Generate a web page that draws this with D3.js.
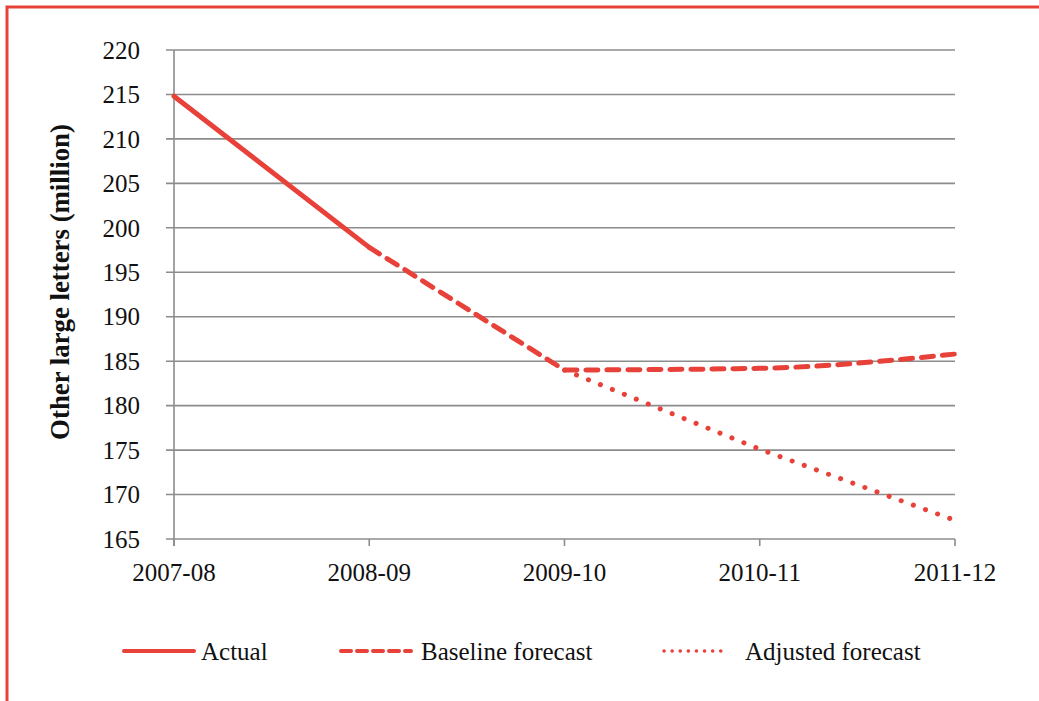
<!DOCTYPE html>
<html><head><meta charset="utf-8">
<script src="https://cdn.jsdelivr.net/npm/d3@7"></script>
<style>body{margin:0;background:#fff}svg{display:block}</style>
</head><body><svg id="c" width="1039" height="701"></svg>
<script>
const categories = ["2007-08","2008-09","2009-10","2010-11","2011-12"];
const actual = [214.8, 197.8, null, null, null];
const baseline = [null, 197.8, 184.0, 184.2, 185.8];
const adjusted = [null, null, 184.0, 175.1, 167.1];
const yTicks = [165,170,175,180,185,190,195,200,205,210,215,220];
const seriesNames = ["Actual","Baseline forecast","Adjusted forecast"];

const FONT = "Liberation Serif";
const red = "#e8413a", grid = "#8c8c8c", ink = "#111";
const svg = d3.select("#c");
svg.append("rect").attr("x",7).attr("y",7).attr("width",1100).attr("height",800)
  .attr("fill","none").attr("stroke",red).attr("stroke-width",3);

const x = d3.scalePoint().domain(categories).range([174,955]);
const y = d3.scaleLinear().domain([165,220]).range([539,50]);

svg.append("g").selectAll("line").data(yTicks).join("line")
  .attr("x1",166).attr("x2",955).attr("y1",d=>y(d)).attr("y2",d=>y(d))
  .attr("stroke",grid).attr("stroke-width",1.6);
svg.append("line").attr("x1",174).attr("x2",174).attr("y1",50).attr("y2",546)
  .attr("stroke",grid).attr("stroke-width",1.6);
svg.append("g").selectAll("line").data(categories).join("line")
  .attr("x1",d=>x(d)).attr("x2",d=>x(d)).attr("y1",539).attr("y2",546)
  .attr("stroke",grid).attr("stroke-width",1.6);

svg.append("g").selectAll("text").data(yTicks).join("text")
  .attr("font-family",FONT).attr("fill",ink)
  .attr("x",140).attr("y",d=>y(d)).attr("dy","0.35em").attr("text-anchor","end")
  .attr("font-size",25).text(d=>d);
svg.append("g").selectAll("text").data(categories).join("text")
  .attr("font-family",FONT).attr("fill",ink)
  .attr("x",d=>x(d)).attr("y",581).attr("text-anchor","middle")
  .attr("font-size",25).text(d=>d);

svg.append("text").attr("transform","translate(69,282) rotate(-90)")
  .attr("font-family",FONT).attr("fill",ink)
  .attr("text-anchor","middle").attr("font-size",26.8).attr("font-weight","bold")
  .text("Other large letters (million)");

const lineLin = d3.line().defined(d=>d.v!=null).x(d=>x(d.c)).y(d=>y(d.v));
const lineSm = d3.line().x(d=>x(d.c)).y(d=>y(d.v)).curve(d3.curveMonotoneX);
const pts = arr => arr.map((v,i)=>({c:categories[i],v}));

const bp = pts(baseline).filter(d=>d.v!=null);
const baseD = lineLin(bp.slice(0,2)) + lineSm(bp.slice(1)).replace(/^M/,"L");

svg.append("path").attr("d",lineLin(pts(adjusted))).attr("fill","none").attr("stroke",red)
  .attr("stroke-width",5).attr("stroke-linecap","round").attr("stroke-dasharray","0.1,12.8");
svg.append("path").attr("d",baseD).attr("fill","none").attr("stroke",red)
  .attr("stroke-width",5).attr("stroke-linecap","round").attr("stroke-linejoin","round").attr("stroke-dasharray","12,9");
svg.append("path").attr("d",lineLin(pts(actual))).attr("fill","none").attr("stroke",red)
  .attr("stroke-width",5).attr("stroke-linecap","round");

const leg = [
  {name:seriesNames[0], x1:124, x2:194, tx:201, dash:null, w:4},
  {name:seriesNames[1], x1:341, x2:411, tx:421, dash:"10,6", w:4},
  {name:seriesNames[2], x1:664, x2:727, tx:745, dash:"0.1,8", w:3.5}
];
const lg = svg.append("g").selectAll("g").data(leg).join("g");
lg.append("line").attr("x1",d=>d.x1).attr("x2",d=>d.x2).attr("y1",651).attr("y2",651)
  .attr("stroke",red).attr("stroke-width",d=>d.w).attr("stroke-linecap","round")
  .attr("stroke-dasharray",d=>d.dash);
lg.append("text").attr("font-family",FONT).attr("fill",ink)
  .attr("x",d=>d.tx).attr("y",651).attr("dy","0.35em").attr("font-size",25).text(d=>d.name);
</script></body></html>
